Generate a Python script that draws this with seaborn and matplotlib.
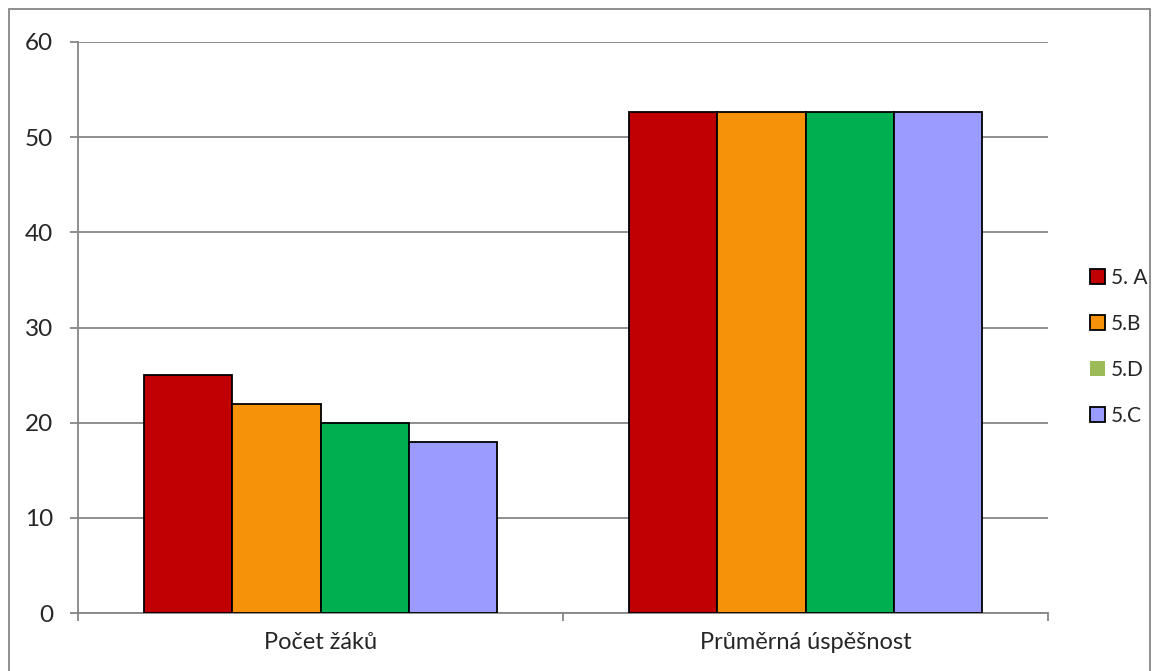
import matplotlib
matplotlib.use("Agg")
import matplotlib.pyplot as plt
from matplotlib.patches import Patch, Rectangle
import seaborn as sns
import pandas as pd

categories = ["Počet žáků", "Průměrná úspěšnost"]
series = ["5. A", "5.B", "5.D", "5.C"]
values_5A = [25, 52.6]
values_5B = [22, 52.6]
values_5D = [20, 52.6]
values_5C = [18, 52.6]
yticks = [0, 10, 20, 30, 40, 50, 60]

bar_colors = ["#C00000", "#F5920A", "#00B050", "#9B9BFF"]
legend_colors = ["#C00000", "#F5920A", "#9BBB59", "#9B9BFF"]

rows = []
for s, vals in zip(series, [values_5A, values_5B, values_5D, values_5C]):
    for c, v in zip(categories, vals):
        rows.append({"cat": c, "series": s, "value": v})
df = pd.DataFrame(rows)

sns.set_style("white")
plt.rcParams["font.family"] = ["Lato", "DejaVu Sans"]

fig = plt.figure(figsize=(11.6, 6.71), dpi=100)
ax = fig.add_axes([78 / 1160, 1 - 613 / 671, (1048 - 78) / 1160, (613 - 42) / 671])

sns.barplot(data=df, x="cat", y="value", hue="series", order=categories,
            hue_order=series, palette=bar_colors, width=0.726, ax=ax,
            edgecolor="black", linewidth=1.3, legend=False, saturation=1, zorder=3)

ax.set_ylim(0, 60)
ax.set_xlim(-0.5, 1.5)
ax.set_yticks(yticks)
ax.set_yticklabels([str(t) for t in yticks], fontsize=17.5)
ax.yaxis.grid(True, color="#868686", linewidth=1.3, zorder=0)
ax.set_axisbelow(True)
ax.set_xlabel("")
ax.set_ylabel("")
ax.tick_params(axis="x", which="major", length=0, labelsize=17, pad=14, bottom=True)
ax.set_xticks([-0.5, 0.5, 1.5], minor=True)
ax.tick_params(axis="x", which="minor", length=6, color="#868686", width=1.3,
               direction="out", bottom=True)
ax.tick_params(axis="y", length=6, color="#868686", width=1.3, direction="out",
               pad=12, left=True)
for side in ["top", "right"]:
    ax.spines[side].set_visible(False)
for side in ["left", "bottom"]:
    ax.spines[side].set_color("#868686")
    ax.spines[side].set_linewidth(1.3)

handles = []
for i, col in enumerate(legend_colors):
    if series[i] == "5.D":
        handles.append(Patch(facecolor=col, edgecolor=col, linewidth=0))
    else:
        handles.append(Patch(facecolor=col, edgecolor="black", linewidth=1.3))
fig.legend(handles, series, loc="center left", bbox_to_anchor=(1071 / 1160, 1 - 347 / 671),
           frameon=False, fontsize=15, handlelength=0.72, handleheight=0.72,
           handletextpad=0.3, labelspacing=1.25)

fig.add_artist(Rectangle((9 / 1160, -0.01), (1150 - 9) / 1160, 1 - 9 / 671 + 0.01,
                         transform=fig.transFigure, fill=False, edgecolor="#868686",
                         linewidth=1.3))

fig.savefig("out.png", dpi=100)
